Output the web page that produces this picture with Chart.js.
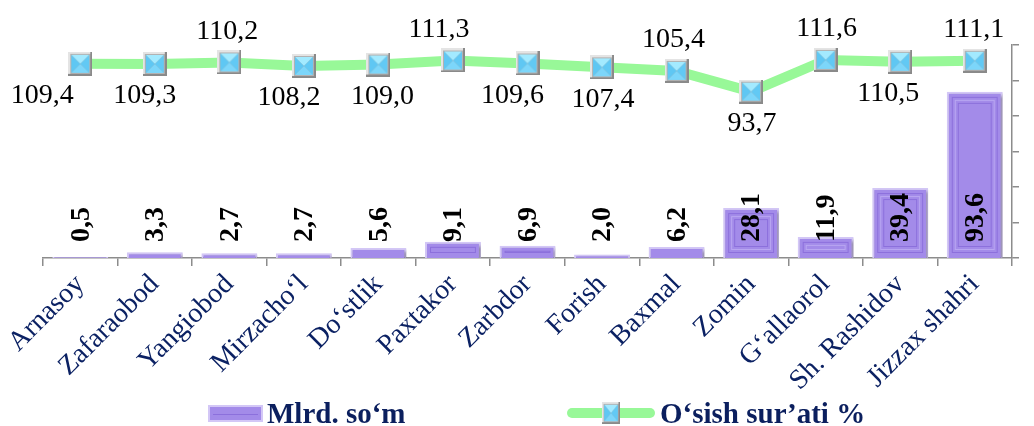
<!DOCTYPE html>
<html><head><meta charset="utf-8">
<script src="https://cdn.jsdelivr.net/npm/chart.js@4"></script>
<style>
html,body{margin:0;padding:0;background:#fff;}
#wrap{position:relative;width:1034px;height:426px;overflow:hidden;}
#legend{position:absolute;left:0;top:398px;width:1034px;height:30px;font-family:'Liberation Serif',serif;font-weight:bold;font-size:29px;color:#0B1F5E;}
.item{position:absolute;top:0;display:flex;align-items:center;height:30px;white-space:nowrap;}
.item canvas{margin-right:4px;}
</style></head><body>
<div id="wrap"><canvas id="c" width="1034" height="426"></canvas>
<div id="legend">
 <div class="item" style="left:208px"><canvas id="lg1" width="55" height="17"></canvas><span id="lt1"></span></div>
 <div class="item" style="left:566px"><canvas id="lg2" width="90" height="26"></canvas><span id="lt2"></span></div>
</div></div>
<script>
const categories = ['Arnasoy','Zafaraobod','Yangiobod','Mirzacho‘l','Do‘stlik','Paxtakor','Zarbdor','Forish','Baxmal','Zomin','G‘allaorol','Sh. Rashidov','Jizzax shahri'];
const volume = [0.5,3.3,2.7,2.7,5.6,9.1,6.9,2.0,6.2,28.1,11.9,39.4,93.6];
const growth = [109.4,109.3,110.2,108.2,109.0,111.3,109.6,107.4,105.4,93.7,111.6,110.5,111.1];
const seriesNames = ['Mlrd. so‘m','O‘sish sur’ati %'];
const axisTicks = [0,20,40,60,80,100,120];

const BAR_FILL = '#A38BE9', BAR_EDGE = '#D3C7F6', BAR_LINE = '#8C70DC', LINE_COL = '#98F898';
const fmt = v => v.toFixed(1).replace('.', ',');

function makeMarker(){
  const c=document.createElement('canvas'); c.width=24; c.height=24;
  const g=c.getContext('2d');
  g.fillStyle='#B2B2B2'; g.fillRect(0,0,24,24);
  g.fillStyle='#E4E4E4'; g.fillRect(0,0,24,2); g.fillRect(0,0,2,24);
  g.fillStyle='#8A8A8A'; g.fillRect(0,22,24,2); g.fillRect(22,0,2,24);
  const a=3,b=21,m=12;
  const tri=(p,col)=>{g.beginPath();g.moveTo(p[0][0],p[0][1]);g.lineTo(p[1][0],p[1][1]);g.lineTo(p[2][0],p[2][1]);g.closePath();g.fillStyle=col;g.fill();};
  tri([[a,a],[b,a],[m,m]],'#A3EAFF');
  tri([[a,b],[b,b],[m,m]],'#7CD6FA');
  tri([[a,a],[a,b],[m,m]],'#5FC7F3');
  tri([[b,a],[b,b],[m,m]],'#62C9F4');
  return c;
}
const marker = makeMarker();

(function(){
  const g1=document.getElementById('lg1').getContext('2d');
  g1.fillStyle=BAR_FILL; g1.fillRect(1,1,53,15);
  g1.strokeStyle=BAR_EDGE; g1.lineWidth=2; g1.strokeRect(1,1,53,15);
  g1.strokeStyle=BAR_LINE; g1.lineWidth=1; g1.beginPath(); g1.moveTo(5,9.5); g1.lineTo(50,9.5); g1.stroke();
  const g2=document.getElementById('lg2').getContext('2d');
  g2.strokeStyle=LINE_COL; g2.lineWidth=10; g2.lineCap='round';
  g2.beginPath(); g2.moveTo(6,13); g2.lineTo(84,13); g2.stroke();
  g2.drawImage(marker,45-9,13-11,18,22);
  document.getElementById('lt1').textContent=seriesNames[0];
  document.getElementById('lt2').textContent=seriesNames[1];
})();

const barDecor = {
  id:'barDecor',
  beforeDatasetDraw(chart,args){
    if(args.index!==0) return;
    const ctx=chart.ctx; ctx.save();
    ctx.shadowColor='rgba(0,0,0,0.35)'; ctx.shadowOffsetX=2; ctx.shadowOffsetY=2; ctx.shadowBlur=3;
  },
  afterDatasetDraw(chart,args){
    if(args.index!==0) return;
    const ctx=chart.ctx; ctx.restore();
    const meta=chart.getDatasetMeta(0);
    ctx.save();
    meta.data.forEach(el=>{
      const left=el.x-el.width/2, top=Math.min(el.y,el.base), h=Math.abs(el.base-el.y);
      [[5,BAR_LINE,1],[8,'#B9A7F1',1],[11,BAR_LINE,1]].forEach(([ins,col,lw])=>{
        if(h>2*ins+2 && el.width>2*ins+2){
          ctx.strokeStyle=col; ctx.lineWidth=lw;
          ctx.strokeRect(left+ins+0.5, top+ins+0.5, el.width-2*ins-1, h-2*ins-1);
        }
      });
    });
    const y=chart.scales.y;
    ctx.font='bold 28px "Liberation Serif"'; ctx.fillStyle='#000';
    ctx.textAlign='left'; ctx.textBaseline='middle';
    meta.data.forEach((el,i)=>{
      ctx.save(); ctx.translate(el.x+1, y.getPixelForValue(9)); ctx.rotate(-Math.PI/2);
      ctx.fillText(fmt(volume[i]),0,0); ctx.restore();
    });
    ctx.restore();
  }
};

const lineLabels = {
  id:'lineLabels',
  afterDatasetsDraw(chart,args,opts){
    const meta=chart.getDatasetMeta(1), ctx=chart.ctx;
    ctx.save(); ctx.font='28px "Liberation Serif"'; ctx.fillStyle='#000';
    ctx.textAlign='center'; ctx.textBaseline='middle';
    meta.data.forEach((pt,i)=>{
      const above=opts.pos[i]==='a';
      ctx.fillText(fmt(growth[i]), pt.x+opts.dx[i], pt.y+(above?-31:32));
    });
    ctx.restore();
  }
};

new Chart(document.getElementById('c'),{
  data:{
    labels:categories,
    datasets:[
      {type:'bar',label:seriesNames[0],data:volume,yAxisID:'y',order:2,
       backgroundColor:BAR_FILL,borderColor:BAR_EDGE,borderWidth:2,
       barPercentage:0.75,categoryPercentage:1},
      {type:'line',label:seriesNames[1],data:growth,yAxisID:'y1',order:1,
       borderColor:LINE_COL,borderWidth:10,tension:0,
       pointStyle:marker,pointRadius:12,pointHoverRadius:12}
    ]
  },
  options:{
    responsive:false,animation:false,devicePixelRatio:1,
    layout:{padding:{left:43,top:45,right:0,bottom:0}},
    plugins:{legend:{display:false},tooltip:{enabled:false},
      lineLabels:{pos:['b','b','a','b','b','a','b','b','a','b','a','b','a'],
                  dx:[-38,-10,-2,-15,4,-14,-15,1,-3,1,1,-12,-1]}},
    scales:{
      x:{offset:true,
         grid:{offset:true,drawOnChartArea:false,drawTicks:true,tickLength:8,color:'#8C8C8C',lineWidth:1.5},
         border:{color:'#8C8C8C',width:1.5},
         ticks:{autoSkip:false,minRotation:45,maxRotation:45,padding:2,color:'#0B2163',
                font:{family:'Liberation Serif',size:28}},
         afterFit(s){s.height=168;}},
      y:{display:false,min:axisTicks[0],max:axisTicks[axisTicks.length-1]},
      y1:{position:'right',min:axisTicks[0],max:axisTicks[axisTicks.length-1],
          ticks:{display:false,stepSize:axisTicks[1]-axisTicks[0]},
          grid:{drawOnChartArea:false,drawTicks:true,tickLength:7,color:'#8C8C8C',lineWidth:1.5},
          border:{color:'#8C8C8C',width:1.5},
          afterFit(s){s.width=7;}}
    }
  },
  plugins:[barDecor,lineLabels]
});
</script>
</body></html>
